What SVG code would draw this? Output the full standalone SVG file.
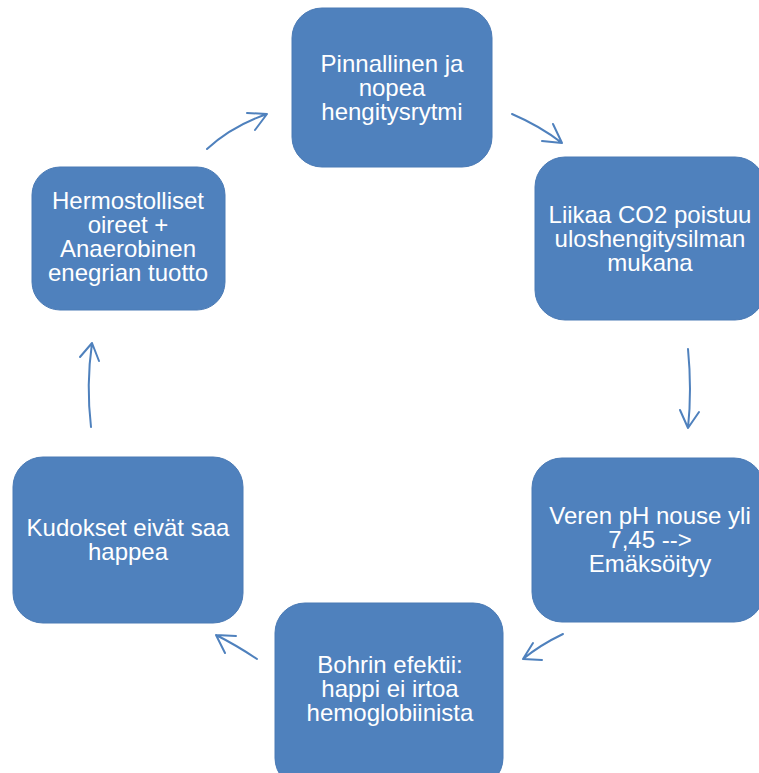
<svg xmlns="http://www.w3.org/2000/svg" width="759" height="773" viewBox="0 0 759 773">
<style>
.box{fill:#4F81BD;stroke:#4A7AB5;stroke-width:1}
.t{font-family:"Liberation Sans",Arial,sans-serif;font-size:24px;fill:#fff;text-anchor:middle}
.c{fill:none;stroke:#4F81BD;stroke-width:2;stroke-linecap:round;stroke-linejoin:round}
</style>
<rect width="759" height="773" fill="#fff"/>
<g id="n1"><rect class="box" x="292" y="8" width="200" height="159" rx="30"/>
<text class="t" x="392" y="72">Pinnallinen ja</text><text class="t" x="392" y="96">nopea</text><text class="t" x="392" y="120">hengitysrytmi</text></g>
<g id="n2"><rect class="box" x="535" y="157" width="230" height="163" rx="30"/>
<text class="t" x="650" y="223">Liikaa CO2 poistuu</text><text class="t" x="650" y="247">uloshengitysilman</text><text class="t" x="650" y="271">mukana</text></g>
<g id="n3"><rect class="box" x="532" y="458" width="232" height="164" rx="30"/>
<text class="t" x="650" y="524">Veren pH nouse yli</text><text class="t" x="650" y="548">7,45 --&gt;</text><text class="t" x="650" y="572">Emäksöityy</text></g>
<g id="n4"><rect class="box" x="275" y="603" width="228" height="185" rx="30"/>
<text class="t" x="390" y="673">Bohrin efektii:</text><text class="t" x="390" y="697">happi ei irtoa</text><text class="t" x="390" y="721">hemoglobiinista</text></g>
<g id="n5"><rect class="box" x="13" y="457" width="230" height="166" rx="30"/>
<text class="t" x="128" y="536">Kudokset eivät saa</text><text class="t" x="128" y="560">happea</text></g>
<g id="n6"><rect class="box" x="32" y="167" width="193" height="143" rx="28"/>
<text class="t" x="128" y="209">Hermostolliset</text><text class="t" x="128" y="233">oireet +</text><text class="t" x="128" y="257">Anaerobinen</text><text class="t" x="128" y="281">enegrian tuotto</text></g>
<g id="connectors">
<path class="c" d="M207 149 Q232 126 267 114 M247 113 L267 114 L255 130"/>
<path class="c" d="M512 114 Q540 126 562 143 M553 124 L562 143 L542 141"/>
<path class="c" d="M688 349 Q692 390 688 428 M680 410 L688 428 L699 412"/>
<path class="c" d="M563 634 Q540 645 523 659 M533 643 L523 659 L542 660"/>
<path class="c" d="M257 659 Q236 645 216 635 M236 636 L216 635 L225 653"/>
<path class="c" d="M91 427 Q86 385 92 343 M80 357 L92 343 L99 361"/>
</g>
</svg>
